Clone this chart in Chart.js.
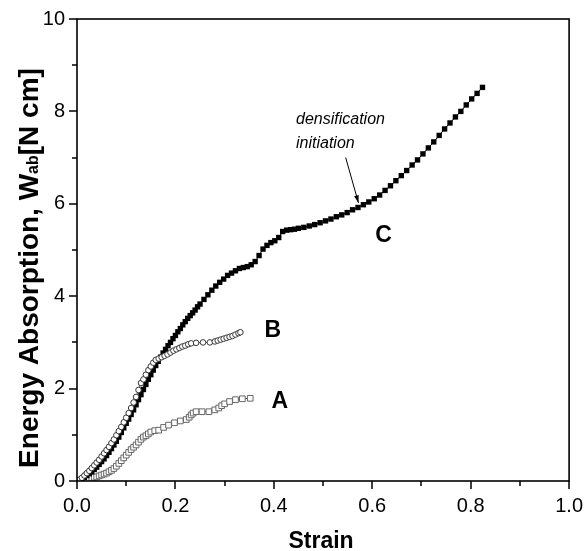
<!DOCTYPE html>
<html>
<head>
<meta charset="utf-8">
<script src="https://cdn.jsdelivr.net/npm/chart.js@4.4.0/dist/chart.umd.min.js"></script>
<style>
html,body{margin:0;padding:0;background:#fff;}
#wrap{width:588px;height:551px;position:relative;}
</style>
</head>
<body>
<div id="wrap"><canvas id="c" width="588" height="551"></canvas></div>
<script>
// ---- data ----
const strainA = [0,0.005,0.01,0.015,0.02,0.025,0.03,0.035,0.04,0.045,0.05,0.055,0.06,0.065,0.07,0.075,0.08,0.085,0.09,0.095,0.1,0.105,0.11,0.115,0.12,0.125,0.13,0.135,0.14,0.145,0.15,0.158,0.166,0.176,0.186,0.198,0.21,0.222,0.228,0.232,0.236,0.242,0.254,0.268,0.28,0.288,0.294,0.3,0.31,0.322,0.336,0.352];
const energyA = [0,0.01,0.02,0.03,0.04,0.05,0.06,0.08,0.09,0.11,0.13,0.15,0.17,0.2,0.23,0.27,0.32,0.38,0.44,0.5,0.56,0.62,0.68,0.73,0.78,0.84,0.9,0.95,0.98,1.02,1.06,1.09,1.1,1.16,1.21,1.26,1.3,1.33,1.38,1.43,1.47,1.5,1.5,1.5,1.54,1.58,1.63,1.67,1.72,1.76,1.78,1.79];

const strainB = [0,0.005,0.01,0.015,0.02,0.025,0.03,0.035,0.04,0.045,0.05,0.055,0.06,0.065,0.07,0.075,0.08,0.085,0.09,0.095,0.1,0.105,0.11,0.115,0.12,0.125,0.13,0.135,0.14,0.145,0.15,0.155,0.16,0.166,0.172,0.178,0.184,0.19,0.196,0.202,0.208,0.214,0.22,0.226,0.232,0.242,0.256,0.27,0.28,0.286,0.292,0.298,0.304,0.31,0.316,0.322,0.328,0.332];
const energyB = [0,0.03,0.07,0.12,0.17,0.22,0.28,0.34,0.4,0.46,0.53,0.6,0.67,0.74,0.82,0.9,0.99,1.08,1.17,1.27,1.37,1.47,1.58,1.7,1.82,1.97,2.12,2.2,2.3,2.4,2.48,2.56,2.62,2.65,2.68,2.71,2.74,2.78,2.82,2.85,2.88,2.91,2.93,2.96,2.98,2.99,3.0,3.0,3.02,3.04,3.06,3.08,3.1,3.12,3.14,3.17,3.2,3.22];

const strainC = [0,0.005,0.01,0.015,0.02,0.025,0.03,0.035,0.04,0.045,0.05,0.055,0.06,0.065,0.07,0.075,0.08,0.085,0.09,0.095,0.1,0.105,0.11,0.115,0.12,0.125,0.13,0.135,0.14,0.145,0.15,0.155,0.16,0.165,0.17,0.175,0.18,0.185,0.19,0.195,0.2,0.205,0.21,0.215,0.22,0.225,0.23,0.235,0.24,0.245,0.25,
  0.258,0.266,0.274,0.282,0.29,0.298,0.306,0.314,0.322,0.33,0.338,0.346,0.354,0.362,0.37,0.378,0.386,0.394,0.402,0.41,0.418,0.426,0.434,0.442,
  0.45,0.461,0.472,0.483,0.494,0.505,0.516,0.527,0.538,0.549,0.56,0.571,0.582,0.593,0.604,0.615,0.626,0.637,0.648,0.659,0.67,0.681,0.692,0.703,0.714,0.725,0.736,0.747,0.758,0.769,0.78,0.791,0.802,0.813,0.824];
const energyC = [0,0.02,0.05,0.08,0.12,0.16,0.2,0.25,0.3,0.36,0.42,0.48,0.55,0.62,0.7,0.78,0.86,0.95,1.05,1.15,1.25,1.34,1.44,1.54,1.65,1.76,1.87,1.98,2.09,2.2,2.3,2.4,2.5,2.59,2.68,2.77,2.85,2.93,3.0,3.08,3.15,3.23,3.3,3.38,3.45,3.52,3.58,3.64,3.7,3.77,3.83,
  3.93,4.03,4.13,4.22,4.3,4.37,4.45,4.5,4.55,4.6,4.62,4.64,4.68,4.75,4.88,5.02,5.1,5.16,5.2,5.27,5.4,5.43,5.44,5.45,
  5.47,5.49,5.52,5.55,5.59,5.63,5.67,5.72,5.76,5.81,5.87,5.92,5.98,6.04,6.11,6.19,6.29,6.39,6.5,6.61,6.72,6.84,6.95,7.08,7.21,7.34,7.48,7.62,7.75,7.88,8.0,8.14,8.27,8.39,8.52];

const seriesLabels = ['A','B','C'];
const xTickLabels = ['0.0','0.2','0.4','0.6','0.8','1.0'];
const yTickLabels = ['0','2','4','6','8','10'];
const xTitle = 'Strain';
const yTitleParts = ['Energy Absorption, W','ab','[N cm]'];
const noteLines = ['densification','initiation'];

const FONT = '"Liberation Sans", Arial, Helvetica, sans-serif';
const pts = (xs, ys) => xs.map((x, i) => ({x: x, y: ys[i]}));

const decor = {
  id: 'decor',
  afterDraw(chart) {
    const ctx = chart.ctx, a = chart.chartArea;
    const xs = chart.scales.x, ys = chart.scales.y;
    ctx.save();
    // frame
    ctx.strokeStyle = '#000';
    ctx.lineWidth = 1.6;
    ctx.strokeRect(a.left, a.top, a.right - a.left, a.bottom - a.top);
    // ticks
    ctx.lineWidth = 1.5;
    ctx.beginPath();
    for (let i = 0; i <= 10; i++) {
      const len = i % 2 === 0 ? 8 : 5;
      const px = Math.round(xs.getPixelForValue(i / 10)) ;
      ctx.moveTo(px, a.bottom); ctx.lineTo(px, a.bottom + len);
      const py = Math.round(ys.getPixelForValue(i));
      ctx.moveTo(a.left, py); ctx.lineTo(a.left - len, py);
    }
    ctx.stroke();
    // x title
    ctx.fillStyle = '#000';
    ctx.font = 'bold 23px ' + FONT;
    ctx.textAlign = 'center';
    ctx.textBaseline = 'middle';
    ctx.fillText(xTitle, (a.left + a.right) / 2 - 2, 542);
    // y title with subscript
    ctx.save();
    ctx.translate(28, 268);
    ctx.rotate(-Math.PI / 2);
    const big = 'bold 28px ' + FONT, small = 'bold 16px ' + FONT;
    ctx.font = big; const w1 = ctx.measureText(yTitleParts[0]).width;
    ctx.font = small; const w2 = ctx.measureText(yTitleParts[1]).width;
    ctx.font = big; const w3 = ctx.measureText(yTitleParts[2]).width;
    let x0 = -(w1 + w2 + w3) / 2;
    ctx.textAlign = 'left';
    ctx.textBaseline = 'alphabetic';
    ctx.font = big; ctx.fillText(yTitleParts[0], x0, 10);
    ctx.font = small; ctx.fillText(yTitleParts[1], x0 + w1, 10);
    ctx.font = big; ctx.fillText(yTitleParts[2], x0 + w1 + w2, 10);
    ctx.restore();
    // series labels
    ctx.font = 'bold 23px ' + FONT;
    ctx.textAlign = 'center';
    ctx.textBaseline = 'middle';
    const labPos = [[0.412, 1.72], [0.398, 3.26], [0.623, 5.32]];
    seriesLabels.forEach((t, i) => {
      ctx.fillText(t, xs.getPixelForValue(labPos[i][0]), ys.getPixelForValue(labPos[i][1]));
    });
    // annotation
    ctx.font = 'italic 16px ' + FONT;
    ctx.textAlign = 'left';
    ctx.textBaseline = 'alphabetic';
    const nx = xs.getPixelForValue(0.445);
    ctx.fillText(noteLines[0], nx, ys.getPixelForValue(7.72));
    ctx.fillText(noteLines[1], nx, ys.getPixelForValue(7.2));
    // arrow
    const ax0 = xs.getPixelForValue(0.546), ay0 = ys.getPixelForValue(7.0);
    const ax1 = xs.getPixelForValue(0.572), ay1 = ys.getPixelForValue(6.02);
    ctx.lineWidth = 1;
    ctx.beginPath(); ctx.moveTo(ax0, ay0); ctx.lineTo(ax1, ay1); ctx.stroke();
    const ang = Math.atan2(ay1 - ay0, ax1 - ax0);
    ctx.beginPath();
    ctx.moveTo(ax1, ay1);
    ctx.lineTo(ax1 - 8 * Math.cos(ang - 0.3), ay1 - 8 * Math.sin(ang - 0.3));
    ctx.lineTo(ax1 - 8 * Math.cos(ang + 0.3), ay1 - 8 * Math.sin(ang + 0.3));
    ctx.closePath(); ctx.fill();
    ctx.restore();
  }
};

new Chart(document.getElementById('c'), {
  type: 'scatter',
  data: {
    datasets: [
      { label: seriesLabels[0], data: pts(strainA, energyA), showLine: true,
        borderColor: '#222', borderWidth: 0.8, pointStyle: 'rect', pointRadius: 4,
        pointBackgroundColor: '#fff', pointBorderColor: '#666', pointBorderWidth: 1, order: 3 },
      { label: seriesLabels[2], data: pts(strainC, energyC), showLine: true,
        borderColor: '#000', borderWidth: 1, pointStyle: 'rect', pointRadius: 3.8,
        pointBackgroundColor: '#000', pointBorderColor: '#000', pointBorderWidth: 0, order: 2 },
      { label: seriesLabels[1], data: pts(strainB, energyB), showLine: true,
        borderColor: '#222', borderWidth: 0.8, pointStyle: 'circle', pointRadius: 2.8,
        pointBackgroundColor: '#fff', pointBorderColor: '#222', pointBorderWidth: 0.9, order: 1 }
    ]
  },
  options: {
    responsive: false,
    animation: false,
    events: [],
    layout: { padding: { left: 0, right: 17, top: 19, bottom: 0 } },
    plugins: { legend: { display: false }, tooltip: { enabled: false } },
    scales: {
      x: {
        type: 'linear', min: 0, max: 1,
        afterFit: s => { s.height = 70; },
        ticks: { stepSize: 0.1, padding: 5, color: '#000', font: { size: 20, family: FONT },
          maxRotation: 0, autoSkip: false,
          callback: (v, i) => (i % 2 === 0 ? xTickLabels[i / 2] : '') },
        grid: { drawOnChartArea: false, drawTicks: true, tickLength: 8, tickColor: 'rgba(0,0,0,0)' },
        border: { display: false }
      },
      y: {
        type: 'linear', min: 0, max: 10,
        afterFit: s => { s.width = 77; },
        ticks: { stepSize: 1, padding: 4, color: '#000', font: { size: 20, family: FONT },
          autoSkip: false,
          callback: (v, i) => (i % 2 === 0 ? yTickLabels[i / 2] : '') },
        grid: { drawOnChartArea: false, drawTicks: true, tickLength: 8, tickColor: 'rgba(0,0,0,0)' },
        border: { display: false }
      }
    }
  },
  plugins: [decor]
});
</script>
</body>
</html>
